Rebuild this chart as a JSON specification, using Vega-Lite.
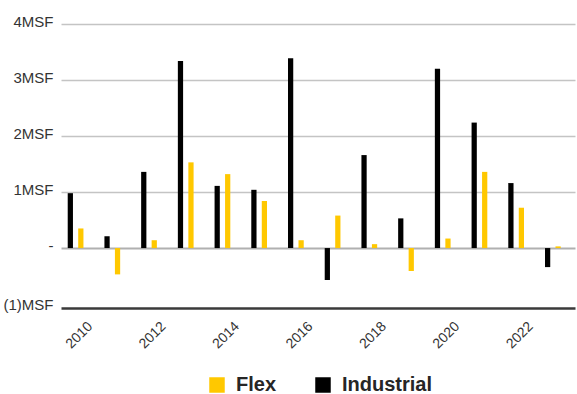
{
  "$schema": "https://vega.github.io/schema/vega-lite/v6.json",
  "width": 514,
  "height": 284,
  "autosize": {"type": "none"},
  "padding": {"left": 61, "top": 24, "right": 2, "bottom": 86},
  "background": "white",
  "config": {"view": {"stroke": null}, "font": "Liberation Sans"},
  "data": {
    "values": [
      {"year": 2010, "series": "Industrial", "value": 0.98},
      {"year": 2010, "series": "Flex", "value": 0.35},
      {"year": 2011, "series": "Industrial", "value": 0.21},
      {"year": 2011, "series": "Flex", "value": -0.47},
      {"year": 2012, "series": "Industrial", "value": 1.36},
      {"year": 2012, "series": "Flex", "value": 0.14},
      {"year": 2013, "series": "Industrial", "value": 3.34},
      {"year": 2013, "series": "Flex", "value": 1.53},
      {"year": 2014, "series": "Industrial", "value": 1.11},
      {"year": 2014, "series": "Flex", "value": 1.32},
      {"year": 2015, "series": "Industrial", "value": 1.04},
      {"year": 2015, "series": "Flex", "value": 0.84},
      {"year": 2016, "series": "Industrial", "value": 3.39},
      {"year": 2016, "series": "Flex", "value": 0.14},
      {"year": 2017, "series": "Industrial", "value": -0.57},
      {"year": 2017, "series": "Flex", "value": 0.58},
      {"year": 2018, "series": "Industrial", "value": 1.66},
      {"year": 2018, "series": "Flex", "value": 0.07},
      {"year": 2019, "series": "Industrial", "value": 0.53},
      {"year": 2019, "series": "Flex", "value": -0.41},
      {"year": 2020, "series": "Industrial", "value": 3.2},
      {"year": 2020, "series": "Flex", "value": 0.17},
      {"year": 2021, "series": "Industrial", "value": 2.24},
      {"year": 2021, "series": "Flex", "value": 1.36},
      {"year": 2022, "series": "Industrial", "value": 1.16},
      {"year": 2022, "series": "Flex", "value": 0.72},
      {"year": 2023, "series": "Industrial", "value": -0.34},
      {"year": 2023, "series": "Flex", "value": 0.03}
    ]
  },
  "mark": {"type": "bar"},
  "encoding": {
    "x": {
      "field": "year",
      "type": "ordinal",
      "scale": {"paddingInner": 0, "paddingOuter": 0},
      "axis": {
        "title": null,
        "values": [2010, 2012, 2014, 2016, 2018, 2020, 2022],
        "labelAngle": -45,
        "labelAlign": "center",
        "labelBaseline": "middle",
        "labelPadding": 27,
        "ticks": false,
        "tickSize": 0,
        "domainColor": "#3a3a3a",
        "domainWidth": 2.5,
        "labelFontSize": 14,
        "labelColor": "#333333"
      }
    },
    "xOffset": {
      "field": "series",
      "type": "nominal",
      "sort": ["Industrial", "Flex"],
      "scale": {"paddingInner": 0.5, "paddingOuter": 1.09, "align": 0.32}
    },
    "y": {
      "field": "value",
      "type": "quantitative",
      "scale": {"domain": [-1.07, 4], "nice": false, "zero": false},
      "axis": {
        "title": null,
        "values": [-1, 0, 1, 2, 3, 4],
        "labelExpr": "datum.value == 0 ? '-' : (datum.value < 0 ? '(' + abs(datum.value) + ')MSF' : datum.value + 'MSF')",
        "domain": false,
        "ticks": false,
        "labelPadding": 8,
        "labelFontSize": 15,
        "labelColor": "#333333",
        "labelBaseline": "middle",
        "labelOffset": {"condition": {"test": "datum.value === -1", "value": 0}, "value": -3},
        "gridColor": {"condition": {"test": "datum.value === 0", "value": "#b0b0b0"}, "value": "#c4c4c4"},
        "gridWidth": {"condition": {"test": "datum.value === 0", "value": 2}, "value": 1.5},
        "gridOpacity": {"condition": {"test": "datum.value === -1", "value": 0}, "value": 1}
      }
    },
    "color": {
      "field": "series",
      "type": "nominal",
      "scale": {"domain": ["Flex", "Industrial"], "range": ["#FFC800", "#000000"]},
      "legend": {
        "title": null,
        "orient": "none",
        "legendX": 146,
        "legendY": 351,
        "padding": 0,
        "direction": "horizontal",
        "symbolType": "square",
        "symbolSize": 240,
        "symbolStrokeWidth": 0,
        "labelFontSize": 20,
        "labelFontWeight": "bold",
        "labelColor": "#262626",
        "labelOffset": 9,
        "columnPadding": 36
      }
    }
  }
}
